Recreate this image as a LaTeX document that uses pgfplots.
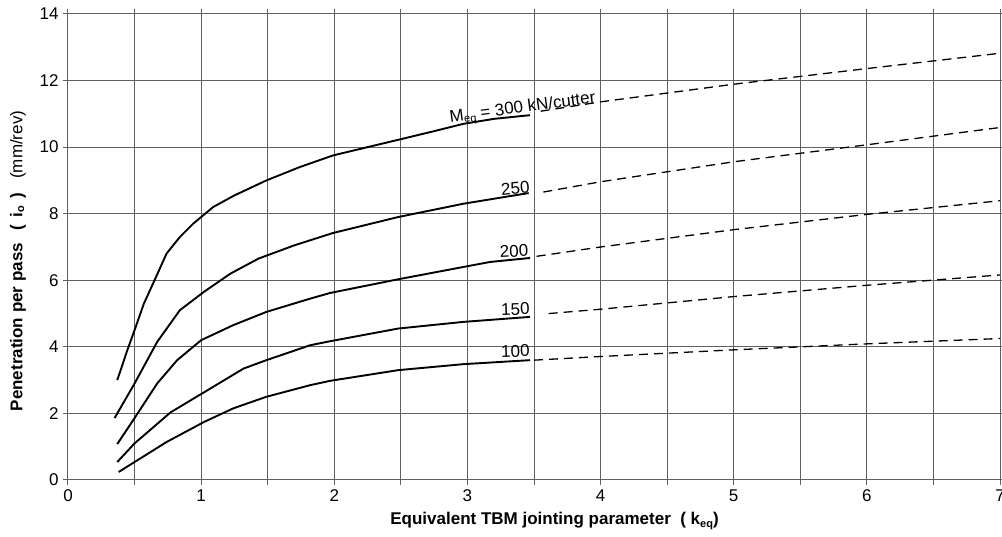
\documentclass[border=0pt]{standalone}
\usepackage{fontspec}
\setmainfont{Liberation Sans}
\usepackage{pgfplots}
\pgfplotsset{compat=1.18}
\begin{document}
\begin{tikzpicture}[x=1pt,y=1pt]
\begin{axis}[
  scale only axis, width=932pt, height=466pt,
  xmin=0, xmax=7, ymin=0, ymax=14,
  xtick={0,1,...,7}, minor xtick={0.5,1.5,...,6.5},
  ytick={0,2,...,14},
  grid=both,
  major grid style={draw=black!62, line width=1pt},
  minor grid style={draw=black!62, line width=1pt},
  axis line style={draw=black!62, line width=1pt},
  tick style={draw=black!62, line width=1pt},
  tick align=outside, major tick length=5pt, minor tick length=5pt,
  /pgf/number format/assume math mode=true,
  ticklabel style={font=\fontsize{17}{19}\selectfont},
  xticklabel style={yshift=-1pt},
  yticklabel style={xshift=-1pt},
  xlabel={\textbf{Equivalent TBM jointing parameter \ ( k\raisebox{-0.3ex}{\fontsize{11}{12}\selectfont eq})}},
  ylabel={\textbf{Penetration per pass \ \,( \,i\raisebox{-0.2ex}{\fontsize{11}{12}\selectfont o} \,)} \ \ (mm/rev)},
  xlabel style={font=\fontsize{17}{19}\selectfont, at={(axis description cs:0.522,0)}, anchor=center, yshift=-41pt},
  ylabel style={font=\fontsize{17}{19}\selectfont, at={(axis description cs:0,0.47)}, anchor=center, rotate=0, yshift=50pt},
  every axis plot/.append style={black},
]
% solid curves
\addplot[line width=1.9pt] coordinates {(0.37,3.0) (0.45,3.95) (0.5,4.5) (0.57,5.3) (0.65,6.0) (0.74,6.8) (0.84,7.3) (0.94,7.7) (1.09,8.2) (1.25,8.55) (1.49,9.0) (1.74,9.4) (1.99,9.75) (2.25,10.0) (2.48,10.22) (2.75,10.48) (2.97,10.7) (3.2,10.85) (3.47,10.96)};
\addplot[line width=1.9pt] coordinates {(0.35,1.86) (0.5,2.9) (0.67,4.15) (0.84,5.1) (1.02,5.65) (1.22,6.2) (1.43,6.65) (1.7,7.05) (1.99,7.42) (2.48,7.9) (2.97,8.3) (3.46,8.62)};
\addplot[line width=1.9pt] coordinates {(0.37,1.08) (0.5,1.86) (0.67,2.9) (0.82,3.6) (1.0,4.2) (1.24,4.65) (1.49,5.05) (1.82,5.45) (1.97,5.62) (2.48,6.03) (2.97,6.4) (3.17,6.55) (3.47,6.67)};
\addplot[line width=1.9pt] coordinates {(0.37,0.54) (0.5,1.1) (0.77,2.03) (1.02,2.63) (1.32,3.35) (1.49,3.6) (1.82,4.05) (1.97,4.17) (2.48,4.55) (2.97,4.75) (3.47,4.9)};
\addplot[line width=1.9pt] coordinates {(0.38,0.24) (0.5,0.54) (0.74,1.14) (1.02,1.74) (1.24,2.15) (1.49,2.5) (1.82,2.85) (1.97,2.98) (2.48,3.3) (2.97,3.48) (3.47,3.6)};
% dashed extrapolations
\addplot[line width=1.3pt, dash pattern=on 9pt off 6pt] coordinates {(3.55,11.08) (4,11.36) (5,11.89) (6,12.36) (7,12.82)};
\addplot[line width=1.3pt, dash pattern=on 9pt off 6pt] coordinates {(3.57,8.65) (4,8.96) (5,9.56) (6,10.07) (7,10.59)};
\addplot[line width=1.3pt, dash pattern=on 9pt off 6pt] coordinates {(3.52,6.72) (4,7.0) (5,7.52) (6,7.98) (7,8.39)};
\addplot[line width=1.3pt, dash pattern=on 9pt off 6pt] coordinates {(3.61,5.0) (4,5.13) (5,5.51) (6,5.85) (7,6.16)};
\addplot[line width=1.3pt, dash pattern=on 9pt off 6pt] coordinates {(3.5,3.6) (4,3.71) (5,3.91) (6,4.09) (7,4.25)};
% labels
\node[anchor=base west, rotate=7.5, inner sep=0pt, font=\fontsize{17}{19}\selectfont] at (axis cs:2.87,10.75) {M\raisebox{-0.3ex}{\fontsize{11}{12}\selectfont eq} = 300 kN/cutter};
\node[rotate=5, font=\fontsize{17}{19}\selectfont] at (axis cs:3.36,8.77) {250};
\node[rotate=3, font=\fontsize{17}{19}\selectfont] at (axis cs:3.35,6.88) {200};
\node[rotate=2, font=\fontsize{17}{19}\selectfont] at (axis cs:3.36,5.13) {150};
\node[rotate=2, font=\fontsize{17}{19}\selectfont] at (axis cs:3.36,3.87) {100};
\end{axis}
\pgfresetboundingbox
\path[use as bounding box] (-68pt,-57pt) rectangle (934pt,480pt);
\end{tikzpicture}
\end{document}
